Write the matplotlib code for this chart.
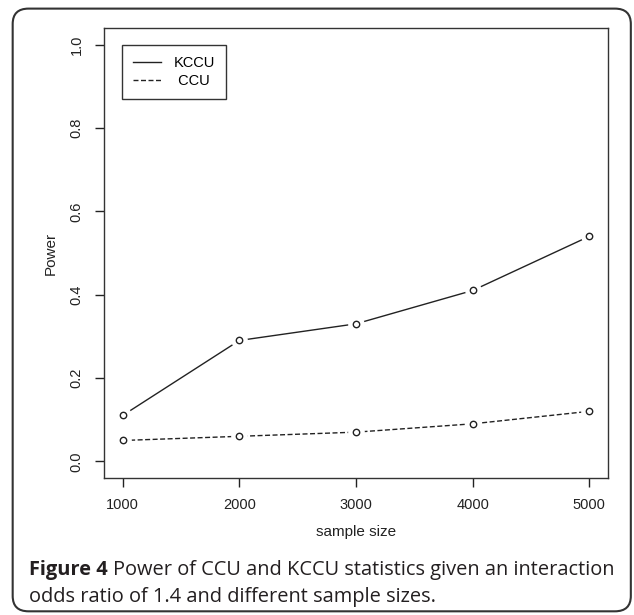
import numpy as np
import matplotlib
matplotlib.use('Agg')
import matplotlib.pyplot as plt
from matplotlib.patches import FancyBboxPatch
from matplotlib.lines import Line2D

sample_size = [1000, 2000, 3000, 4000, 5000]
kccu = [0.11, 0.29, 0.33, 0.41, 0.54]
ccu = [0.05, 0.06, 0.07, 0.09, 0.12]

plt.rcParams['font.family'] = ['Liberation Sans', 'DejaVu Sans']

fig = plt.figure(figsize=(6.34, 6.15), dpi=100)
ax = fig.add_axes([0.164, 0.2228, 0.795, 0.7317])

col = '#222222'
dash = (0, (3.6, 1.8))
# R type="b": lines with gaps around the points
for y, ls in [(kccu, '-'), (ccu, dash)]:
    ax.plot(sample_size, y, color=col, lw=1.0, linestyle=ls, zorder=2)
    ax.plot(sample_size, y, 'o', ms=11, mfc='white', mec='white', zorder=3)
    ax.plot(sample_size, y, 'o', ms=4.6, mfc='white', mec=col, mew=1.0, zorder=4)

ax.set_xlim(840, 5160)
ax.set_ylim(-0.04, 1.04)
ax.set_xticks(sample_size)
ax.set_yticks([0.0, 0.2, 0.4, 0.6, 0.8, 1.0])
ax.set_yticklabels(['0.0', '0.2', '0.4', '0.6', '0.8', '1.0'], rotation=90, va='center')
ax.tick_params(direction='out', length=6.5, width=1, colors=col, labelsize=10.5, pad=8)
for s in ax.spines.values():
    s.set_color('#333333')
    s.set_linewidth(1.0)
ax.set_xlabel('sample size', fontsize=11, color=col, labelpad=9)
ax.set_ylabel('Power', fontsize=11, color=col, labelpad=9)

handles = [Line2D([], [], color=col, lw=1.0, linestyle='-'),
           Line2D([], [], color=col, lw=1.0, linestyle=dash)]
leg = ax.legend(handles, ['KCCU', ' CCU'], loc='upper left',
                bbox_to_anchor=(0.0357, 0.962), borderaxespad=0,
                fancybox=False, framealpha=1,
                edgecolor='#333333', fontsize=10.5, handlelength=1.9,
                handletextpad=0.9, borderpad=0.75, labelspacing=0.25)
leg.get_frame().set_linewidth(1.0)

# rounded outer border
border = FancyBboxPatch((0.02, 0.006), 0.975, 0.98,
                        boxstyle='round,pad=0,rounding_size=0.025',
                        transform=fig.transFigure, fill=False,
                        edgecolor='#333333', lw=1.5)
fig.patches.append(border)

cap_font = ['Open Sans', 'DejaVu Sans']
cap_col = '#231f20'
cap_size = 14.4
t1 = fig.text(29 / 634, 1 - 570 / 615, 'Figure 4', fontsize=cap_size, fontweight='bold',
              family=cap_font, color=cap_col, va='center')
fig.canvas.draw()
bb = t1.get_window_extent()
x2 = (bb.x1 + 5) / fig.bbox.width
fig.text(x2, 1 - 570 / 615, 'Power of CCU and KCCU statistics given an interaction',
         fontsize=cap_size, family=cap_font, color=cap_col, va='center')
fig.text(29 / 634, 1 - 597 / 615, 'odds ratio of 1.4 and different sample sizes.',
         fontsize=cap_size, family=cap_font, color=cap_col, va='center')

fig.savefig('out.png', dpi=100)
